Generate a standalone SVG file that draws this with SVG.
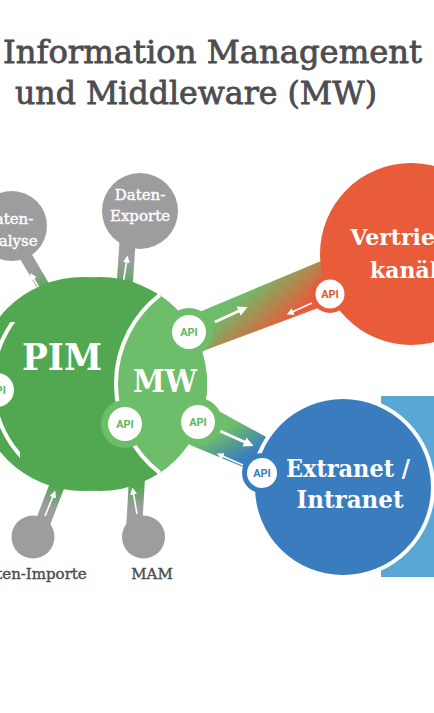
<svg xmlns="http://www.w3.org/2000/svg" width="434" height="713" viewBox="0 0 434 713">
<defs>
<style>
.title{font-family:"DejaVu Serif","Liberation Serif",serif;font-size:31px;fill:#4d4d4f;stroke:#4d4d4f;stroke-width:0.8}
.lbl{font-family:"DejaVu Serif","Liberation Serif",serif;fill:#fff;text-anchor:middle;font-weight:bold}
.slbl{font-family:"DejaVu Serif","Liberation Serif",serif;fill:#fff;text-anchor:middle;font-size:15px;stroke:#fff;stroke-width:0.4}
.glbl{font-family:"DejaVu Serif","Liberation Serif",serif;fill:#4d4d4f;font-size:15px;text-anchor:middle;stroke:#4d4d4f;stroke-width:0.4}
.api{font-family:Roboto,"DejaVu Sans",sans-serif;font-weight:700;font-size:11px;text-anchor:middle}
.gray{fill:#9d9d9f}
.thick{stroke:#fff;stroke-width:3;fill:none;marker-end:url(#ah)}
.thin{stroke:#fff;stroke-width:1.6;fill:none;marker-end:url(#ahs)}
</style>
<marker id="ah" viewBox="0 0 10 10" refX="5" refY="5" markerWidth="10" markerHeight="10" orient="auto" markerUnits="userSpaceOnUse"><path d="M0,0 L10,5 L0,10 z" fill="#fff"/></marker>
<marker id="ahs" viewBox="0 0 10 10" refX="5" refY="5" markerWidth="7" markerHeight="7" orient="auto" markerUnits="userSpaceOnUse"><path d="M0,0 L10,5 L0,10 z" fill="#fff"/></marker>
<linearGradient id="gV" gradientUnits="userSpaceOnUse" x1="249" y1="288" x2="282" y2="325"><stop offset="0" stop-color="#6dbd6b"/><stop offset="1" stop-color="#e85c3a"/></linearGradient>
<linearGradient id="gE" gradientUnits="userSpaceOnUse" x1="221" y1="431" x2="238" y2="462"><stop offset="0" stop-color="#6dbd6b"/><stop offset="1" stop-color="#3a7dbf"/></linearGradient>
<linearGradient id="gA" gradientUnits="userSpaceOnUse" x1="27" y1="262" x2="46" y2="292"><stop offset="0" stop-color="#9d9d9f"/><stop offset="0.3" stop-color="#9d9d9f"/><stop offset="1" stop-color="#51a851"/></linearGradient>
<linearGradient id="gX" gradientUnits="userSpaceOnUse" x1="127" y1="248" x2="124" y2="290"><stop offset="0" stop-color="#9d9d9f"/><stop offset="0.3" stop-color="#9d9d9f"/><stop offset="1" stop-color="#51a851"/></linearGradient>
<linearGradient id="gI" gradientUnits="userSpaceOnUse" x1="45" y1="517" x2="57" y2="486"><stop offset="0" stop-color="#9d9d9f"/><stop offset="0.3" stop-color="#9d9d9f"/><stop offset="1" stop-color="#51a851"/></linearGradient>
<linearGradient id="gM" gradientUnits="userSpaceOnUse" x1="134" y1="517" x2="136" y2="485"><stop offset="0" stop-color="#9d9d9f"/><stop offset="0.3" stop-color="#9d9d9f"/><stop offset="1" stop-color="#51a851"/></linearGradient>
<clipPath id="leftArc"><rect x="-10" y="322" width="30" height="146"/></clipPath>
</defs>
<rect width="434" height="713" fill="#fff"/>

<g id="title">
<text class="title" x="3" y="63" textLength="419" lengthAdjust="spacingAndGlyphs">Information Management</text>
<text class="title" x="15" y="104" textLength="362" lengthAdjust="spacingAndGlyphs">und Middleware (MW)</text>
</g>

<g id="connectors">
<polygon points="24,241 57,297 46,303 13,247" fill="url(#gA)"/>
<line class="thin" x1="43" y1="295" x2="32" y2="276"/>
<polygon points="120,234 136,236 132,296 116,294" fill="url(#gX)"/>
<line class="thin" x1="123" y1="284" x2="127" y2="259"/>
<polygon points="33,527 47,533 67,481 53,475" fill="url(#gI)"/>
<line class="thin" x1="45" y1="516" x2="54" y2="494"/>
<polygon points="126,530 142,530 145,478 129,478" fill="url(#gM)"/>
<line class="thin" x1="137" y1="514" x2="133" y2="491"/>
<polygon points="185,318 345,251 350,296 195,354" fill="url(#gV)"/>
<line class="thick" x1="215" y1="322" x2="243" y2="309"/>
<line class="thin" x1="312" y1="303" x2="290" y2="313"/>
<polygon points="195,398 290,450 280,482 190,445" fill="url(#gE)"/>
<line class="thick" x1="220" y1="431" x2="249" y2="444"/>
<line class="thin" x1="243" y1="465" x2="220" y2="455"/>
</g>

<g id="daten-analyse">
<circle class="gray" cx="12" cy="226" r="35"/>
<text class="slbl" x="8" y="224">Daten-</text>
<text class="slbl" x="8" y="246">Analyse</text>
</g>
<g id="daten-exporte">
<circle class="gray" cx="140" cy="211" r="38"/>
<text class="slbl" x="140" y="200">Daten-</text>
<text class="slbl" x="140" y="221">Exporte</text>
</g>
<g id="daten-importe">
<circle class="gray" cx="33" cy="537" r="21.5"/>
<text class="glbl" x="31" y="579">Daten-Importe</text>
</g>
<g id="mam">
<circle class="gray" cx="143.5" cy="537" r="21.5"/>
<text class="glbl" x="152" y="579">MAM</text>
</g>

<g id="pim">
<circle cx="83" cy="384" r="107" fill="#51a851"/>
<circle cx="100" cy="384" r="107" fill="#51a851"/>
<circle cx="100" cy="384" r="107" fill="none" stroke="#fff" stroke-width="4" clip-path="url(#leftArc)"/>
<circle cx="-3" cy="390" r="22" fill="#51a851"/>
<text class="lbl" x="62" y="370" font-size="38" textLength="80" lengthAdjust="spacingAndGlyphs">PIM</text>
<circle cx="-3" cy="390" r="17" fill="#fff"/>
<text class="api" x="-3" y="394" fill="#5cb85c">API</text>
</g>

<g id="mw">
<path d="M159.7,295.2 A107,107 0 0 1 159.7,472.8 A112,112 0 0 1 159.7,295.2 Z" fill="#6dbd6b"/>
<path d="M159.7,472.8 A112,112 0 0 1 159.7,295.2" fill="none" stroke="#fff" stroke-width="4"/>
<circle cx="189" cy="332" r="24" fill="#6dbd6b"/>
<circle cx="198" cy="422" r="24" fill="#6dbd6b"/>
<circle cx="125" cy="424" r="24" fill="#6dbd6b"/>
<text class="lbl" x="165" y="392" font-size="32" textLength="64" lengthAdjust="spacingAndGlyphs">MW</text>
<circle cx="189" cy="332" r="17" fill="#fff"/>
<text class="api" x="189" y="336" fill="#5cb85c">API</text>
<circle cx="198" cy="422" r="17" fill="#fff"/>
<text class="api" x="198" y="426" fill="#5cb85c">API</text>
<circle cx="125" cy="424" r="17" fill="#fff"/>
<text class="api" x="125" y="428" fill="#5cb85c">API</text>
</g>

<g id="vertriebskanaele">
<circle cx="411" cy="254" r="91" fill="#e85c3a"/>
<circle cx="330" cy="294" r="19" fill="#e85c3a"/>
<text class="lbl" x="411" y="245" font-size="22">Vertriebs-</text>
<text class="lbl" x="411" y="278" font-size="22">kanäle</text>
<circle cx="330" cy="294" r="14.5" fill="#fff"/>
<text class="api" x="330" y="298" fill="#e4572e">API</text>
</g>

<g id="extranet">
<rect x="381" y="396" width="53" height="181" fill="#5aa7d5"/>
<circle cx="343" cy="487" r="92" fill="#fff"/>
<circle cx="343" cy="487" r="88" fill="#3a7dbf"/>
<circle cx="262" cy="473" r="20" fill="#3a7dbf"/>
<text class="lbl" x="348" y="477" font-size="25" textLength="124" lengthAdjust="spacingAndGlyphs">Extranet /</text>
<text class="lbl" x="350" y="508" font-size="25" textLength="107" lengthAdjust="spacingAndGlyphs">Intranet</text>
<circle cx="262" cy="473" r="15" fill="#fff"/>
<text class="api" x="262" y="477" fill="#3a7dbf">API</text>
</g>
</svg>
